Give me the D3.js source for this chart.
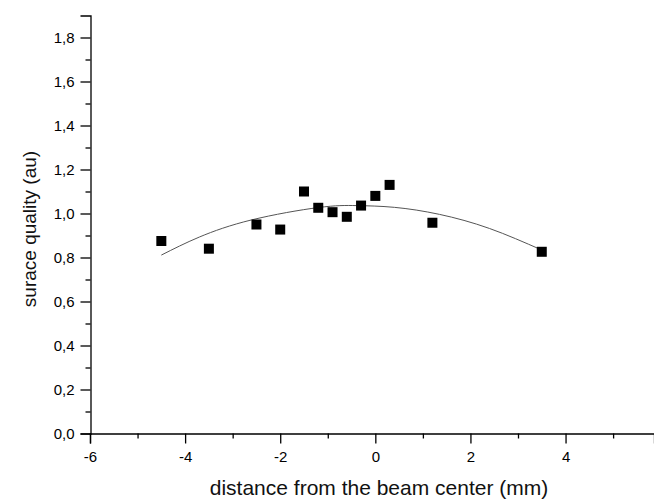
<!DOCTYPE html>
<html>
<head>
<meta charset="utf-8">
<script src="https://cdnjs.cloudflare.com/ajax/libs/d3/7.8.5/d3.min.js"></script>
<style>
  body { margin: 0; background: #fff; }
  svg { display: block; font-family: "Liberation Sans", Arial, sans-serif; }
</style>
</head>
<body>
<script>
// measured points (distance in mm, quality in au)
var xs = [-4.5, -3.5, -2.5, -2.0, -1.5, -1.2, -0.9, -0.6, -0.3, 0.0, 0.3, 1.2, 3.5];
var ys = [0.875, 0.84, 0.95, 0.927, 1.10, 1.026, 1.006, 0.985, 1.036, 1.08, 1.13, 0.958, 0.826];

// fitted curve
var fitX = [-4.5, -3.7, -2.6, -1.2, -0.4, 0.4, 1.35, 2.4, 3.5];
var fitY = [0.811, 0.893, 0.971, 1.027, 1.036, 1.028, 0.996, 0.932, 0.834];

var xMajor = [-6, -4, -2, 0, 2, 4];
var xMinor = [-5, -3, -1, 1, 3, 5];
var yMajor = [0, 0.2, 0.4, 0.6, 0.8, 1.0, 1.2, 1.4, 1.6, 1.8];
var yMinor = [0.1, 0.3, 0.5, 0.7, 0.9, 1.1, 1.3, 1.5, 1.7];

var width = 654, height = 501;

var svg = d3.select("body").append("svg")
    .attr("width", width)
    .attr("height", height);

var x = d3.scaleLinear().domain([-6, 5.86]).range([90, 654]);
var y = d3.scaleLinear().domain([0, 1.9]).range([433.5, 15.5]);

var fmt = d => d3.format(".1f")(d).replace(".", ",");

// x axis (plain hyphen for minus, like the original)
var gx = svg.append("g").attr("transform", "translate(0,433.5)");
gx.call(d3.axisBottom(x).tickValues(xMajor).tickSize(10).tickPadding(8).tickFormat(d => String(d)));
gx.append("g").call(d3.axisBottom(x).tickValues(xMinor).tickSize(5).tickFormat(""))
    .select(".domain").remove();

// y axis
var gy = svg.append("g").attr("transform", "translate(90.5,0)");
gy.call(d3.axisLeft(y).tickValues(yMajor).tickSize(10).tickPadding(6).tickFormat(fmt));
gy.append("g").call(d3.axisLeft(y).tickValues(yMinor).tickSize(5).tickFormat(""))
    .select(".domain").remove();

svg.selectAll(".domain").attr("stroke", "#000").attr("stroke-width", 1.3);
svg.selectAll(".tick line").attr("stroke", "#000").attr("stroke-width", 1.3);
svg.selectAll(".tick text")
    .attr("font-size", "15px")
    .attr("font-family", "Liberation Sans, Arial, sans-serif")
    .attr("fill", "#000");

// axis titles
svg.append("text")
    .attr("x", 379).attr("y", 495)
    .attr("text-anchor", "middle")
    .attr("font-size", "21px")
    .attr("fill", "#111")
    .text("distance from the beam center (mm)");

svg.append("text")
    .attr("transform", "translate(36,229) rotate(-90)")
    .attr("text-anchor", "middle")
    .attr("font-size", "19px")
    .attr("fill", "#111")
    .text("surace quality (au)");

// fit line
var line = d3.line()
    .x(d => x(d[0]))
    .y(d => y(d[1]))
    .curve(d3.curveNatural);

svg.append("path")
    .datum(d3.zip(fitX, fitY))
    .attr("fill", "none")
    .attr("stroke", "#555")
    .attr("stroke-width", 1)
    .attr("d", line);

// points
var s = 10;
svg.append("g")
    .selectAll("rect")
    .data(d3.zip(xs, ys))
    .enter().append("rect")
    .attr("x", d => x(d[0]) - s / 2)
    .attr("y", d => y(d[1]) - s / 2)
    .attr("width", s)
    .attr("height", s)
    .attr("fill", "#000");
</script>
</body>
</html>
